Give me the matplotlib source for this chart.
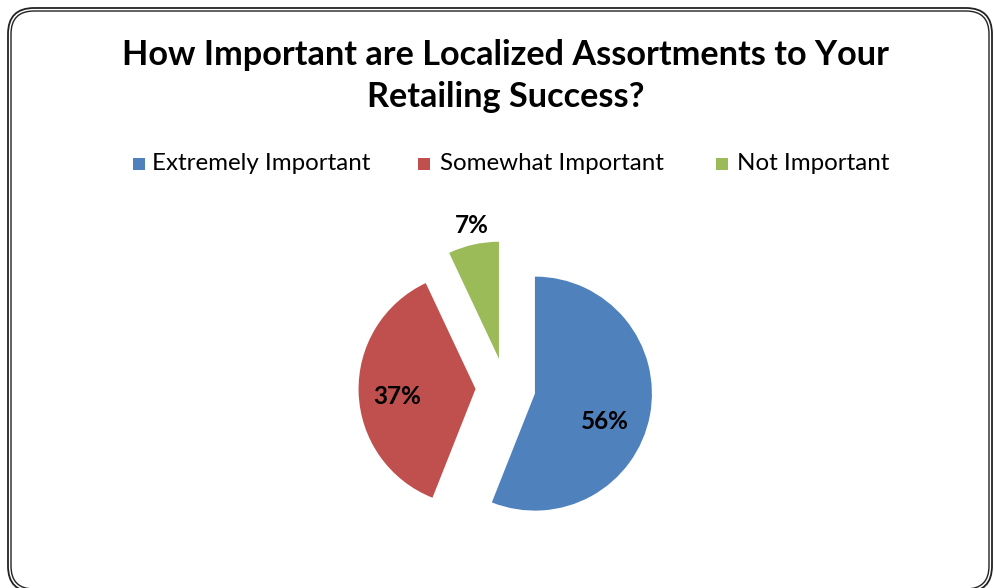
import matplotlib.pyplot as plt
from matplotlib.patches import FancyBboxPatch, Rectangle
import numpy as np

# survey answers
categories = ['Extremely Important', 'Somewhat Important', 'Not Important']
shares = [56, 37, 7]
colors = ['#4F81BD', '#C0504D', '#9BBB59']
title = 'How Important are Localized Assortments to Your\nRetailing Success?'

W, H = 994, 588
fig = plt.figure(figsize=(W / 100, H / 100), dpi=100)
fig.patch.set_facecolor('white')

def fx(px):
    return px / W

def fy(py):
    return 1 - py / H

# double rounded frame around the chart (inches, 100 px each)
for off, lw in [(0, 1.3), (3, 1.0)]:
    x0, x1 = 8 + off, 992 - off
    y0, y1 = 8 + off, 592 - off
    box = FancyBboxPatch((x0 / 100, (H - y1) / 100), (x1 - x0) / 100, (y1 - y0) / 100,
                         boxstyle=f'round,pad=0,rounding_size={(26 - off) / 100}',
                         transform=fig.dpi_scale_trans,
                         facecolor='none', edgecolor='#222222', linewidth=lw)
    fig.patches.append(box)

fig.text(0.5085, fy(76), title, ha='center', va='center', fontsize=24.7, fontweight='bold',
         family='Lato', linespacing=1.4)

# legend row
sq_x = [133, 418, 716]
txt_x = [152, 440, 737]
for c, lab, sx, tx in zip(colors, categories, sq_x, txt_x):
    fig.patches.append(Rectangle((fx(sx), fy(170)), fx(12), 12 / H, transform=fig.transFigure,
                                 facecolor=c, edgecolor='none'))
    fig.text(fx(tx), fy(163), lab, ha='left', va='center', fontsize=17.4, family='Lato')

# pie: radius 117 px centred near (505, 388)
R = 117
half = 160
cx, cy = 505.5, 388
ax = fig.add_axes([fx(cx - half), fy(cy + half), 2 * half / W, 2 * half / H])
lim = half / R
explode = [0.256, 0.256, 0.256]
wedges, _ = ax.pie(shares, colors=colors, startangle=90, counterclock=False,
                   explode=explode, radius=1)
ax.set_xlim(-lim, lim)
ax.set_ylim(-lim, lim)
ax.set_aspect('equal')
ax.axis('off')

# percentage labels
label_dist = [0.9, 0.93, 1.415]
label_shift = [-8, 2.5, -0.8]
for w, v, d, s in zip(wedges, shares, label_dist, label_shift):
    mid = np.deg2rad((w.theta1 + w.theta2) / 2 + s)
    ax.text(d * np.cos(mid), d * np.sin(mid), f'{v}%', ha='center', va='center',
            fontsize=17.5, fontweight='bold', family='Lato')

fig.savefig('out.png', dpi=100)
